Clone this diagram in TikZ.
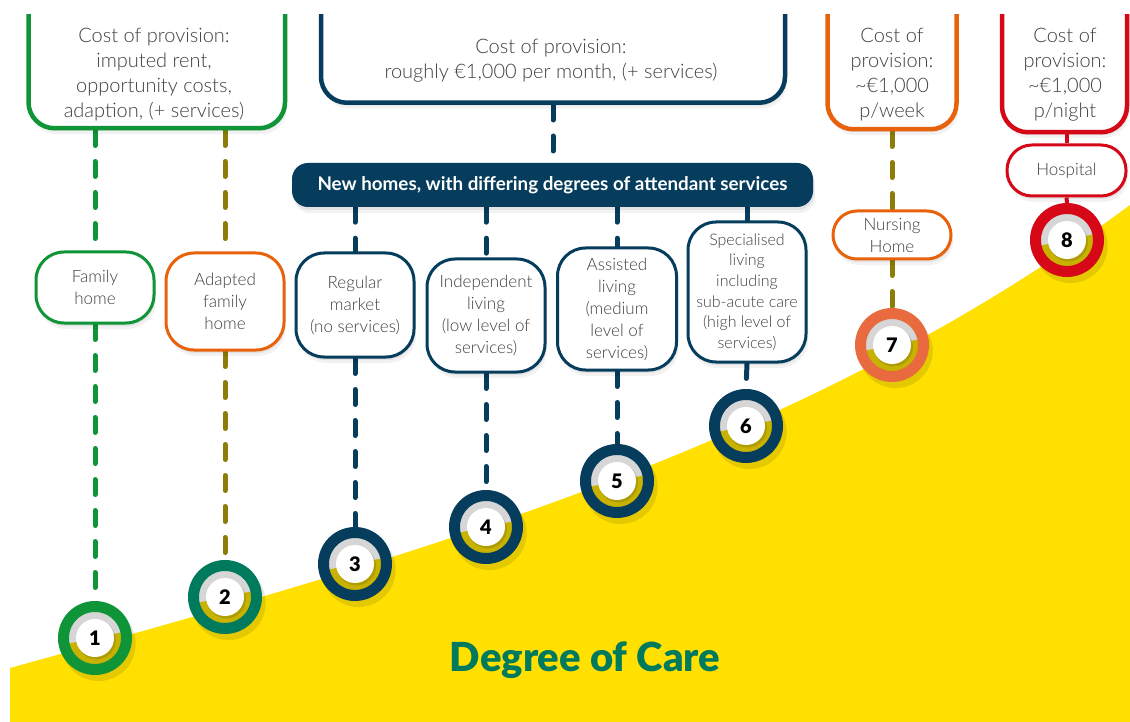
\documentclass[tikz,border=0pt]{standalone}
\usepackage{fontspec}
\setmainfont{Lato}
\IfFontExistsTF{Lato Light}{\newfontfamily\lightfont{Lato Light}}{\newfontfamily\lightfont{Lato}}
\IfFontExistsTF{Lato Black}{\newfontfamily\blackfont{Lato Black}}{\newcommand\blackfont{\bfseries}}
\usetikzlibrary{shadows}
\pgfdeclarelayer{back}\pgfdeclarelayer{mid}\pgfdeclarelayer{front}
\pgfsetlayers{back,mid,main,front}
\definecolor{green1}{RGB}{16,148,56}
\definecolor{navy}{RGB}{6,60,92}
\definecolor{orange1}{RGB}{232,98,12}
\definecolor{red1}{RGB}{214,8,24}
\definecolor{olivedash}{RGB}{140,124,8}
\definecolor{teal1}{RGB}{0,122,92}
\definecolor{salmon}{RGB}{232,106,62}
\definecolor{yel}{RGB}{255,224,0}
\definecolor{ringolive}{RGB}{200,178,0}
\definecolor{ringgray}{RGB}{214,214,214}
\definecolor{txt}{RGB}{64,64,64}
\tikzset{
  softsh/.style={general shadow={shadow xshift=2pt,shadow yshift=-6pt,fill=black,opacity=0.05},
                 general shadow={shadow xshift=1pt,shadow yshift=-3pt,fill=black,opacity=0.06}},
  circsh/.style={general shadow={shadow xshift=3pt,shadow yshift=-5pt,shadow scale=1.18,fill=black,opacity=0.10}},
  topbox/.style={draw=#1, line width=4.5pt, fill=white, rounded corners=26pt, minimum height=180pt,
                 anchor=south, inner sep=0pt, softsh},
  toptext/.style={align=center, text=txt, font=\lightfont\fontsize{20}{25}\selectfont, inner sep=0pt},
  lbl/.style={draw=#1, line width=3pt, fill=white, rounded corners=28pt, align=center, inner sep=0pt,
              minimum width=118pt, text=txt, font=\lightfont\fontsize{17}{22}\selectfont, softsh},
  ring/.style={circle, draw=#1, line width=11pt, minimum size=63pt, inner sep=0pt, text=black,
    font=\blackfont\fontsize{20}{20}\selectfont, circsh,
    path picture={
      \fill[ringgray] (path picture bounding box.center) circle (26.5pt);
      \fill[ringolive] (path picture bounding box.center) -- ++(12:26.5pt)
         arc[start angle=12,end angle=-168,radius=26.5pt] -- cycle;
      \fill[black,opacity=0.12] ([shift={(1.5pt,-2pt)}]path picture bounding box.center) circle (19.5pt);
      \fill[white] (path picture bounding box.center) circle (19pt);
    }},
  dsh/.style={draw=#1, line width=5pt, line cap=round, dash pattern=on 15pt off 16pt},
  solidcon/.style={draw=#1, line width=4pt},
  bannerbox/.style={fill=navy, rounded corners=16pt, minimum width=521pt, minimum height=44pt,
    text=white, font=\bfseries\fontsize{18.8}{22}\selectfont, inner sep=0pt, softsh},
}
\begin{document}
\begin{tikzpicture}[x=1pt,y=-1pt]
\useasboundingbox (0,0) rectangle (1130,722);
\begin{pgfonlayer}{back}
  \fill[white] (0,0) rectangle (1130,722);
  \fill[yel] (10,668) .. controls (400,560) and (800,450) .. (1130,205) -- (1130,722) -- (10,722) -- cycle;
\end{pgfonlayer}

% top cost boxes
\node[topbox=green1, minimum width=256.5pt] (c1) at (156.75,130.5) {};
\node[topbox=navy, minimum width=464pt] (c2) at (553,105) {};
\node[topbox=orange1, minimum width=129pt] (c3) at (892,131.5) {};
\node[topbox=red1, minimum width=125pt] (c4) at (1064.5,134.5) {};
\node[toptext] (t1) at (154,75) {Cost of provision:\\imputed rent,\\opportunity costs,\\adaption, (+ services)};
\node[toptext] (t2) at (551,61) {Cost of provision:\\roughly €1,000 per month, (+ services)};
\node[toptext] (t3) at (892,75) {Cost of\\provision:\\\textasciitilde€1,000\\p/week};
\node[toptext] (t4) at (1065,75) {Cost of\\provision:\\\textasciitilde€1,000\\p/night};

% banner
\node[bannerbox] (banner) at (552.5,185) {New homes, with differing degrees of attendant services};

% labels
\node[lbl=green1, minimum height=71pt] (fam) at (95,287.5) {Family\\home};
\node[lbl=orange1, minimum height=97pt] (adp) at (225,301.5) {Adapted\\family\\home};
\node[lbl=navy, minimum height=104pt] (rm) at (355,305) {Regular\\market\\(no services)};
\node[lbl=navy, minimum height=113pt] (il) at (486,315.5) {Independent\\living\\(low level of\\services)};
\node[lbl=navy, minimum height=122pt, minimum width=119pt] (al) at (617,309) {Assisted\\living\\(medium\\level of\\services)};
\node[lbl=navy, minimum height=140pt, font=\lightfont\fontsize{16}{20.7}\selectfont] (sl) at (747,292) {Specialised\\living\\including\\sub-acute care\\(high level of\\services)};
\node[lbl=orange1, minimum height=48pt, rounded corners=24pt] (nurse) at (892,235) {Nursing\\Home};
\node[lbl=red1, minimum height=51pt, minimum width=119pt, rounded corners=25pt] (hosp) at (1066.5,170.5) {Hospital};

% numbered circles
\node[ring=green1] (n1) at (95,638) {1};
\node[ring=teal1] (n2) at (225,597) {2};
\node[ring=navy] (n3) at (355,564) {3};
\node[ring=navy] (n4) at (486,527) {4};
\node[ring=navy] (n5) at (617,481) {5};
\node[ring=navy] (n6) at (746,426) {6};
\node[ring=salmon] (n7) at (892,345) {7};
\node[ring=red1] (n8) at (1067,240) {8};

\node[text=teal1, font=\blackfont\fontsize{40}{40}\selectfont, inner sep=0pt] (doc) at (585,660) {Degree of Care};

% connectors
\begin{pgfonlayer}{mid}
  \draw[dsh=green1] (c1.south -| fam.north) -- (fam.north);
  \draw[dsh=green1] (fam.south) -- (n1.north);
  \draw[dsh=olivedash] (c1.south -| adp.north) -- (adp.north);
  \draw[dsh=olivedash] (adp.south) -- (n2.north);
  \draw[dsh=navy] (c2.south) -- (c2.south |- banner.north);
  \draw[dsh=navy] (banner.south -| rm.north) -- (rm.north);
  \draw[dsh=navy] (rm.south) -- (n3.north);
  \draw[dsh=navy] (banner.south -| il.north) -- (il.north);
  \draw[dsh=navy] (il.south) -- (n4.north);
  \draw[dsh=navy] (banner.south -| al.north) -- (al.north);
  \draw[dsh=navy] (al.south) -- (n5.north);
  \draw[dsh=navy] (banner.south -| sl.north) -- (sl.north);
  \draw[dsh=navy] (sl.south) -- (n6.north);
  \draw[dsh=olivedash] (c3.south) -- (nurse.north);
  \draw[dsh=olivedash] (nurse.south) -- (n7.north);
  \draw[solidcon=red1] (c4.south -| hosp.north) -- (hosp.north);
  \draw[solidcon=red1] (hosp.south) -- (n8.north);
\end{pgfonlayer}

\begin{pgfonlayer}{front}
  \fill[white] (-5,-5) rectangle (1135,14);
\end{pgfonlayer}
\end{tikzpicture}
\end{document}
